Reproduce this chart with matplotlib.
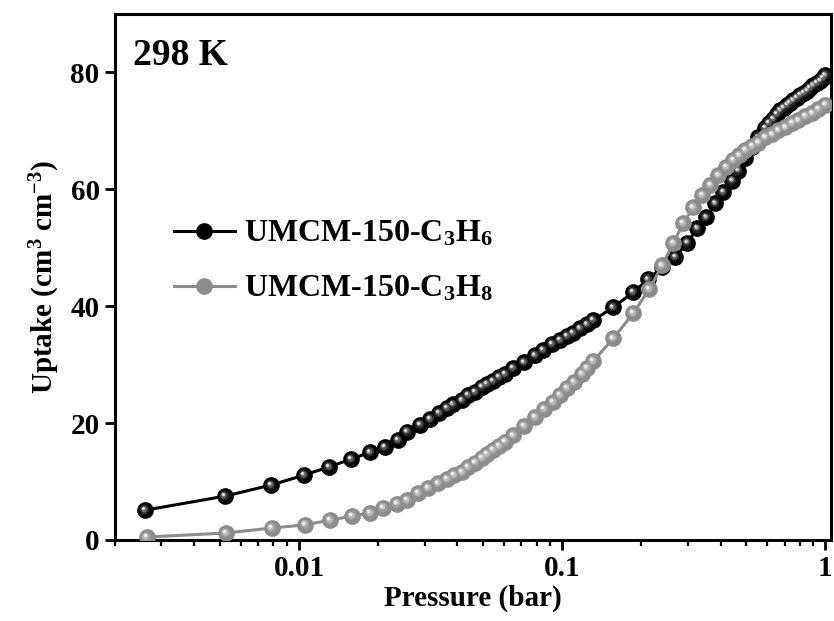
import matplotlib
matplotlib.use("Agg")
import matplotlib.pyplot as plt
from matplotlib.transforms import offset_copy
from matplotlib.ticker import FixedLocator, FixedFormatter, LogLocator, NullFormatter

# ---------------- data ----------------
p_c3h6 = [0.0026, 0.00523, 0.00783, 0.01045, 0.0130, 0.01577, 0.01862, 0.0212, 0.0238,
          0.02575, 0.0288, 0.0315, 0.0341, 0.0365, 0.0385, 0.0417, 0.0439, 0.0467, 0.0496,
          0.0519, 0.0547, 0.0576, 0.0607, 0.0651, 0.0717, 0.0790, 0.0847, 0.0916, 0.0983,
          0.1045, 0.1101, 0.1171, 0.1245, 0.1312, 0.1563, 0.1862, 0.2123, 0.2399, 0.269,
          0.2988, 0.3262, 0.3528, 0.3817, 0.4095, 0.443, 0.4669, 0.4964, 0.5278, 0.5563,
          0.5914, 0.61, 0.6343, 0.655, 0.6744, 0.695, 0.7171, 0.735, 0.7556, 0.78, 0.8035,
          0.83, 0.8545, 0.875, 0.9003, 0.93, 0.9572, 0.98, 1.0]
u_c3h6 = [5.1, 7.5, 9.4, 11.1, 12.5, 13.85, 15.0, 15.9, 17.1,
          18.5, 19.7, 20.7, 21.7, 22.6, 23.2, 23.9, 24.8, 25.3, 26.2,
          26.7, 27.2, 27.9, 28.4, 29.4, 30.4, 31.6, 32.5, 33.5, 34.2,
          34.9, 35.4, 36.2, 36.9, 37.6, 39.8, 42.4, 44.6, 46.7, 48.4,
          50.9, 53.3, 55.2, 57.6, 59.5, 61.5, 63.2, 65.3, 67.3, 68.9,
          70.5, 71.3, 72.0, 72.9, 73.5, 74.0, 74.4, 74.8, 75.2, 75.7, 76.1,
          76.5, 76.9, 77.3, 77.8, 78.2, 78.6, 79.0, 79.5]

p_c3h8 = [0.00264, 0.00528, 0.00789, 0.01054, 0.01312, 0.0159, 0.0186, 0.0209, 0.0236,
          0.02575, 0.02835, 0.0309, 0.0338, 0.0365, 0.0389, 0.0417, 0.0439, 0.0467, 0.0496,
          0.0519, 0.0547, 0.0576, 0.0607, 0.0651, 0.0717, 0.0790, 0.0854, 0.0924, 0.0983,
          0.1045, 0.1111, 0.1191, 0.1245, 0.1312, 0.1563, 0.1862, 0.2142, 0.2399, 0.2643,
          0.2884, 0.3148, 0.3407, 0.3653, 0.392, 0.4203, 0.4469, 0.471, 0.4964, 0.5278,
          0.5563, 0.5914, 0.6288, 0.6627, 0.7046, 0.7491, 0.7897, 0.8395, 0.8925, 0.9406, 1.0]
u_c3h8 = [0.5, 1.2, 2.05, 2.6, 3.4, 4.1, 4.6, 5.5, 6.2,
          6.8, 8.0, 8.9, 9.7, 10.4, 11.1, 11.6, 12.5, 13.2, 14.0,
          14.7, 15.4, 16.1, 16.8, 17.9, 19.5, 21.0, 22.4, 23.6, 24.8,
          26.0, 27.0, 28.4, 29.4, 30.6, 34.5, 38.8, 42.9, 47.0, 50.8,
          54.2, 56.9, 59.0, 60.7, 62.4, 63.8, 65.0, 65.8, 66.7, 67.4,
          68.0, 68.9, 69.4, 70.1, 70.6, 71.3, 71.8, 72.5, 73.0, 73.7, 74.5]

series_labels = ["UMCM-150-C$_3$H$_6$", "UMCM-150-C$_3$H$_8$"]
x_tick_values = [0.01, 0.1, 1]
x_tick_labels = ["0.01", "0.1", "1"]
y_tick_values = [0, 20, 40, 60, 80]
temp_label = "298 K"

# ---------------- style ----------------
plt.rcParams['font.family'] = ['Liberation Serif', 'DejaVu Serif']
plt.rcParams['font.weight'] = 'bold'
plt.rcParams['mathtext.fontset'] = 'custom'
plt.rcParams['mathtext.rm'] = 'Liberation Serif:bold'
plt.rcParams['mathtext.bf'] = 'Liberation Serif:bold'
plt.rcParams['mathtext.it'] = 'Liberation Serif:bold'
plt.rcParams['mathtext.default'] = 'rm'

fig = plt.figure(figsize=(8.34, 6.21), dpi=100)
ax = fig.add_axes([115/834, 1-540/621, (831-115)/834, (540-14)/621])

def sphere_series(x, y, base, shades, z, label):
    ms = 11
    main, = ax.plot(x, y, '-o', color=base, lw=2.2, ms=ms, mfc=base, mec=base,
                    zorder=z, label=label)
    for i, (c, s, d) in enumerate(shades):
        tr = offset_copy(ax.transData, fig=fig, x=-d, y=d, units='dots')
        ax.plot(x, y, 'o', ls='none', ms=s, mfc=c, mec='none',
                transform=tr, zorder=z + 0.1 * (i + 1))
    return main

black_shades = [('#262626', 7.0, 0.9), ('#5e5e5e', 4.6, 1.4), ('#b0b0b0', 2.8, 1.8), ('#ffffff', 1.5, 2.0)]
gray_shades = [('#9c9c9c', 7.0, 0.9), ('#bcbcbc', 4.6, 1.4), ('#dedede', 2.8, 1.8), ('#ffffff', 1.5, 2.0)]

l1 = sphere_series(p_c3h6, u_c3h6, '#000000', black_shades, 3, series_labels[0])
l2 = sphere_series(p_c3h8, u_c3h8, '#8c8c8c', gray_shades, 4, series_labels[1])

ax.set_xscale('log')
ax.set_xlim(0.002, 1.05)
ax.set_ylim(0, 90)

ax.xaxis.set_major_locator(FixedLocator(x_tick_values))
ax.xaxis.set_major_formatter(FixedFormatter(x_tick_labels))
ax.xaxis.set_minor_locator(LogLocator(base=10, subs=range(2, 10)))
ax.xaxis.set_minor_formatter(NullFormatter())
ax.set_yticks(y_tick_values)

for s in ax.spines.values():
    s.set_linewidth(2.2)

ax.tick_params(axis='both', which='major', direction='out', length=7, width=2,
               labelsize=21, pad=4)
ax.tick_params(axis='x', which='minor', direction='out', length=4.5, width=1.6)
ax.tick_params(top=False, right=False, which='both')

ax.set_xlabel("Pressure (bar)", fontsize=21, fontweight='bold', labelpad=2)
ax.set_ylabel("Uptake (cm$^3$ cm$^{-3}$)", fontsize=21, fontweight='bold', labelpad=6)

ax.text(0.025, 0.955, temp_label, transform=ax.transAxes, fontsize=27,
        fontweight='bold', ha='left', va='top')

leg = ax.legend([l1, l2], series_labels, loc='upper left',
                bbox_to_anchor=(0.06, 0.64), frameon=False, fontsize=23,
                handlelength=1.9, handletextpad=0.3, labelspacing=0.8,
                borderpad=0, numpoints=1)

fig.savefig("out.png", dpi=100)
